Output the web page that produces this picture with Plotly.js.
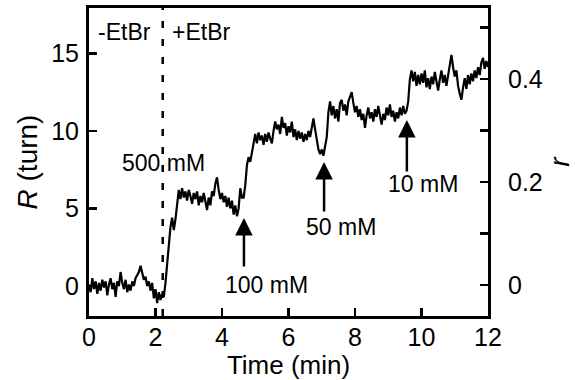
<!DOCTYPE html>
<html>
<head>
<meta charset="utf-8">
<script src="https://cdn.plot.ly/plotly-3.0.1.min.js"></script>
<style>html,body{margin:0;padding:0;background:#fff;}#chart{width:575px;height:380px;}</style>
</head>
<body>
<div id="chart"></div>
<script>
// Time (min) sample points
var timeMin = [
0.00,0.05,0.10,0.15,0.20,0.25,0.30,0.35,0.40,0.45,0.50,0.55,0.60,0.65,0.70,0.75,0.80,0.85,0.90,0.95,
1.00,1.05,1.10,1.15,1.20,1.25,1.30,1.35,1.40,1.45,1.50,1.55,1.60,1.65,1.70,1.75,1.80,1.85,1.90,1.95,
2.00,2.05,2.10,2.15,2.20,2.25,2.30,2.35,2.40,2.45,2.50,2.55,2.60,2.65,2.70,2.75,2.80,2.85,2.90,2.95,
3.00,3.05,3.10,3.15,3.20,3.25,3.30,3.35,3.40,3.45,3.50,3.55,3.60,3.65,3.70,3.75,3.80,3.85,3.90,3.95,
4.00,4.05,4.10,4.15,4.20,4.25,4.30,4.35,4.40,4.45,4.50,4.55,4.60,4.65,4.70,4.75,4.80,4.85,4.90,4.95,
5.00,5.05,5.10,5.15,5.20,5.25,5.30,5.35,5.40,5.45,5.50,5.55,5.60,5.65,5.70,5.75,5.80,5.85,5.90,5.95,
6.00,6.05,6.10,6.15,6.20,6.25,6.30,6.35,6.40,6.45,6.50,6.55,6.60,6.65,6.70,6.75,6.80,6.85,6.90,6.95,
7.00,7.05,7.10,7.15,7.20,7.25,7.30,7.35,7.40,7.45,7.50,7.55,7.60,7.65,7.70,7.75,7.80,7.85,7.90,7.95,
8.00,8.05,8.10,8.15,8.20,8.25,8.30,8.35,8.40,8.45,8.50,8.55,8.60,8.65,8.70,8.75,8.80,8.85,8.90,8.95,
9.00,9.05,9.10,9.15,9.20,9.25,9.30,9.35,9.40,9.45,9.50,9.55,9.60,9.65,9.70,9.75,9.80,9.85,9.90,9.95,
10.00,10.05,10.10,10.15,10.20,10.25,10.30,10.35,10.40,10.45,10.50,10.55,10.60,10.65,10.70,10.75,10.80,10.85,10.90,10.95,
11.00,11.05,11.10,11.15,11.20,11.25,11.30,11.35,11.40,11.45,11.50,11.55,11.60,11.65,11.70,11.75,11.80,11.85,11.90,11.95,
12.00];

// R (turn)
var turnsR = [
0.1,-0.4,0.5,-0.2,0.3,-0.5,0.2,-0.3,0.4,-0.1,0.3,-0.6,0.1,0.5,-0.2,0.2,-0.7,0.3,0.0,0.9,
0.2,-0.2,0.4,-0.4,0.1,-0.3,0.3,0.0,0.5,0.7,0.9,1.3,0.8,0.4,0.6,0.0,0.3,-0.3,0.2,-0.8,
-0.2,-1.1,-0.4,-0.9,-0.5,-0.7,0.2,1.5,2.8,3.8,4.4,3.6,4.3,5.4,6.2,5.6,6.3,5.7,6.1,5.5,
6.2,5.8,5.3,6.0,5.6,6.1,5.2,5.8,5.4,6.0,5.5,4.9,5.7,5.2,6.1,5.8,6.6,7.0,6.2,5.6,
6.0,5.4,5.8,5.1,5.7,5.0,5.5,4.6,5.2,4.5,5.0,6.3,5.7,5.7,6.5,7.8,8.3,8.0,8.6,9.3,
9.8,9.2,9.9,9.4,9.7,9.1,9.8,9.3,9.9,9.5,9.2,10.0,10.6,10.1,10.4,9.8,10.9,10.2,10.5,9.7,
10.3,9.9,10.6,9.6,10.1,9.4,10.0,9.5,9.9,9.3,9.8,9.4,10.0,9.6,10.3,10.8,10.1,9.5,8.8,8.5,
8.8,8.4,8.9,9.6,11.2,11.9,11.0,11.6,10.8,11.4,10.6,11.8,12.0,11.3,11.7,11.0,11.9,12.2,12.5,11.8,
11.2,11.6,10.9,11.4,10.7,11.1,10.2,11.0,11.5,10.8,11.2,10.6,11.4,10.9,11.6,11.0,10.4,11.1,10.7,11.5,
11.0,11.7,10.9,11.3,10.6,11.2,10.8,11.5,11.0,11.6,11.1,11.3,11.9,13.3,13.9,13.2,13.8,12.9,13.6,13.0,
13.7,13.1,13.9,12.8,13.4,12.7,13.5,13.0,13.8,13.2,12.6,13.3,13.9,13.1,13.6,12.9,13.5,14.2,14.9,14.1,
13.5,13.9,12.9,12.4,12.0,12.8,13.4,12.7,13.6,13.0,13.7,13.2,13.9,13.4,14.1,13.6,14.4,14.7,14.0,14.5,
14.1];

var xTicks = [0, 2, 4, 6, 8, 10, 12];
var yTicks = [0, 5, 10, 15];
var y2TickVals = [0, 0.1, 0.2, 0.3, 0.4, 0.5];
var y2TickText = ['0', '', '0.2', '', '0.4', ''];

var FONT = '"Liberation Sans", Arial, Helvetica, sans-serif';

var trace = {
  x: timeMin, y: turnsR, type: 'scatter', mode: 'lines',
  line: {color: '#000', width: 2.2}, hoverinfo: 'skip', showlegend: false
};
// empty trace so that the right-hand r axis is drawn
var rAxisTrace = {
  x: [], y: [], type: 'scatter', mode: 'lines', yaxis: 'y2',
  hoverinfo: 'skip', showlegend: false
};

function arrow(x, y, len) {
  return {x: x, y: y, xref: 'x', yref: 'y', text: '', showarrow: true,
    arrowhead: 2, arrowsize: 1.4, arrowwidth: 2.5, arrowcolor: '#000',
    ax: 0, ay: len, axref: 'pixel', ayref: 'pixel', standoff: 0};
}
function label(x, y, t) {
  return {x: x, y: y, xref: 'x', yref: 'y', text: t, showarrow: false,
    font: {family: FONT, size: 23, color: '#000'}, xanchor: 'center', yanchor: 'middle'};
}

var layout = {
  width: 575, height: 380,
  margin: {l: 89, r: 87, t: 8, b: 64, pad: 0},
  paper_bgcolor: '#fff', plot_bgcolor: '#fff',
  font: {family: FONT, size: 25, color: '#000'},
  showlegend: false,
  xaxis: {
    range: [0, 12], tickvals: xTicks, ticks: 'inside', ticklen: 8, tickwidth: 2.5, tickcolor: '#000',
    showline: true, linewidth: 3, linecolor: '#000', mirror: true, showgrid: false, zeroline: false,
    tickfont: {family: FONT, size: 25}, ticklabelstandoff: -3,
    title: {text: 'Time (min)', font: {family: FONT, size: 26}, standoff: 4}
  },
  yaxis: {
    range: [-1.934, 17.92], tickvals: yTicks, ticks: 'inside', ticklen: 8, tickwidth: 2.5, tickcolor: '#000',
    showline: true, linewidth: 3, linecolor: '#000', mirror: false, showgrid: false, zeroline: false,
    tickfont: {family: FONT, size: 25}, ticklabelstandoff: 2,
    title: {text: '<i>R</i> (turn)', font: {family: FONT, size: 28}, standoff: 6}
  },
  yaxis2: {
    overlaying: 'y', side: 'right', anchor: 'x',
    range: [-0.0602, 0.5379], tickvals: y2TickVals, ticktext: y2TickText,
    ticks: 'inside', ticklen: 8, tickwidth: 2.5, tickcolor: '#000',
    showline: true, linewidth: 3, linecolor: '#000', showgrid: false, zeroline: false,
    tickfont: {family: FONT, size: 25}, ticklabelstandoff: 12,
    title: {text: '<i>r</i>', font: {family: FONT, size: 28}, standoff: 12}
  },
  shapes: [{
    type: 'line', xref: 'x', yref: 'paper', x0: 2.217, x1: 2.217, y0: 0, y1: 1,
    line: {color: '#000', width: 2.5, dash: '7px,11px'}
  }],
  annotations: [
    label(1.08, 16.4, '-EtBr'),
    label(3.37, 16.4, '+EtBr'),
    label(2.23, 7.93, '500 mM'),
    arrow(4.66, 4.38, 50),
    label(5.35, 0.06, '100 mM'),
    arrow(7.07, 8.0, 51),
    label(7.58, 3.82, '50 mM'),
    arrow(9.56, 10.7, 53),
    label(10.05, 6.58, '10 mM')
  ]
};

Plotly.newPlot('chart', [trace, rAxisTrace], layout, {staticPlot: true, displayModeBar: false});
</script>
</body>
</html>
